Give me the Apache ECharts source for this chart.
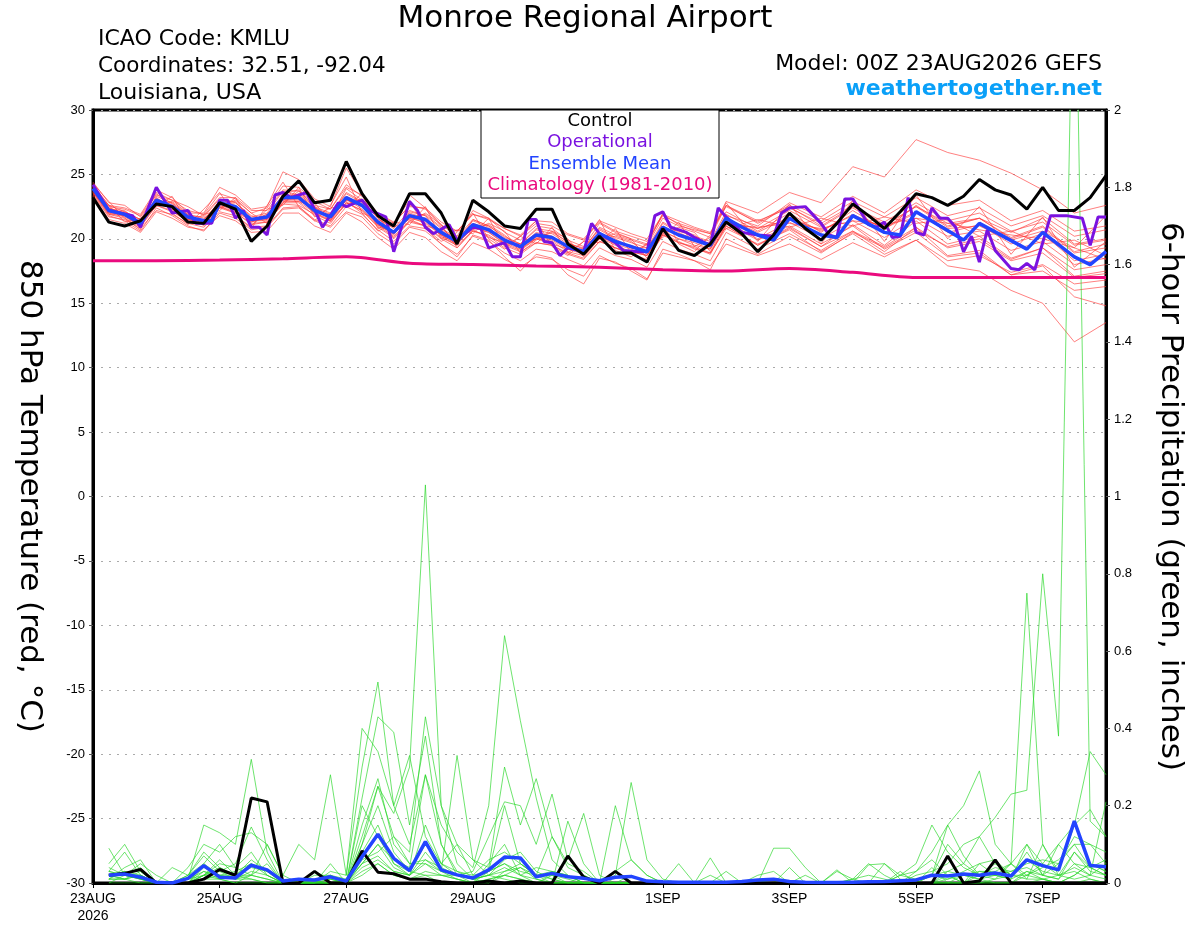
<!DOCTYPE html>
<html><head><meta charset="utf-8">
<script src="https://cdn.jsdelivr.net/npm/echarts@6/dist/echarts.min.js"></script>
<style>html,body{margin:0;padding:0;background:#fff}#c{width:1200px;height:927px}</style>
</head><body><div id="c"></div>
<script>
// ---------- DATA ----------
const tickHours = [0,48,96,144,216,264,312,360];
const tickLabels = ['23AUG\n2026','25AUG','27AUG','29AUG','1SEP','3SEP','5SEP','7SEP'];

const hours6 = [0,6,12,18,24,30,36,42,48,54,60,66,72,78,84,90,96,102,108,114,120,126,132,138,144,150,156,162,168,174,180,186,192,198,204,210,216,222,228,234,240,246,252,258,264,270,276,282,288,294,300,306,312,318,324,330,336,342,348,354,360,366,372,378,384];
const precipHours = [6,12,18,24,30,36,42,48,54,60,66,72,78,84,90,96,102,108,114,120,126,132,138,144,150,156,162,168,174,180,186,192,198,204,210,216,222,228,234,240,246,252,258,264,270,276,282,288,294,300,306,312,318,324,330,336,342,348,354,360,366,372,378,384];
const memberTempHours = [0,6,12,18,24,30,36,42,48,54,60,66,72,78,84,90,96,102,108,114,120,126,132,138,144,150,156,162,168,174,180,186,192,198,204,210,216,222,228,234,240,252,264,276,288,300,312,324,336,348,360,372,384];

const controlTemp = [23.2,21.3,21.0,21.4,22.7,22.5,21.3,21.2,22.8,
 22.3,19.8,21.0,23.3,24.5,22.8,23.0,26.0,
 23.5,21.8,21.0,23.5,23.5,22.0,19.6,23.0,
 22.1,21.0,20.8,22.3,22.3,19.6,18.8,20.2,
 18.9,18.9,18.2,20.8,19.1,18.7,19.6,21.3,
 20.4,19.0,20.3,22.0,20.8,19.9,21.2,22.7,
 21.8,20.8,22.1,23.5,23.2,22.6,23.3,24.6,
 23.8,23.4,22.3,24.0,22.2,22.2,23.2,24.9];

const meanTempHours = [0,6,12,18,24,30,36,42,45,48,54,60,66,72,78,84,90,96,102,108,114,120,126,132,138,144,150,156,162,168,174,180,186,192,198,204,210,216,222,228,234,240,246,252,258,264,270,276,282,288,300,306,312,330,336,354,360,372,378,384];
const meanTemp = [23.9,22.2,21.9,21.2,23.0,22.5,21.7,21.4,21.4,22.8,22.5,21.5,21.7,23.2,23.2,22.2,21.7,23.2,22.6,21.3,20.5,21.8,21.5,20.5,19.8,21.1,20.7,19.9,19.4,20.3,20.1,19.4,19.0,20.4,19.8,19.4,19.0,20.9,20.3,19.9,19.5,21.6,20.9,20.3,19.9,21.6,20.9,20.3,20.1,21.8,20.5,20.3,22.1,19.9,21.2,19.2,20.5,18.6,18.0,19.0];

const opTempHours = [0,6,15,18,24,30,36,39,45,48,51,54,57,60,63,66,69,72,75,81,87,93,96,102,105,111,114,120,123,126,129,135,138,144,147,150,156,159,162,165,168,171,174,177,180,186,189,192,198,201,207,210,213,216,219,225,228,234,237,240,243,246,252,258,261,264,270,276,279,282,285,288,294,297,300,303,306,309,312,315,318,321,324,327,330,333,336,339,342,348,351,354,357,363,369,375,378,381,384];
const opTemp = [24.2,22.2,21.8,20.9,24.0,22.0,22.2,21.2,21.2,23.0,23.0,21.6,22.2,20.9,20.9,20.3,23.4,23.6,23.2,23.6,20.9,22.8,22.5,23.0,22.2,21.7,19.0,22.9,22.2,20.9,20.4,21.1,19.9,20.9,20.8,19.3,19.7,18.6,18.6,21.5,21.5,19.8,19.7,18.7,19.3,19.0,21.2,20.4,19.7,19.1,19.0,19.0,21.8,22.1,20.9,20.5,20.1,19.5,22.4,21.7,21.1,20.5,20.3,20.2,22.0,22.4,22.5,21.2,20.3,20.1,23.1,23.1,21.1,20.9,21.3,20.1,20.2,23.2,20.5,20.3,22.4,21.6,21.6,20.9,19.0,20.2,18.2,20.7,19.1,17.7,17.6,18.1,17.6,21.8,21.8,21.6,19.5,21.7,21.7];

const climHours = [0,24,48,72,96,120,144,168,192,216,240,264,288,312,336,360,384];
const climTemp = [18.3,18.3,18.35,18.45,18.6,18.1,18.0,17.9,17.8,17.6,17.5,17.7,17.4,17.0,17.0,17.0,17.0];

const m01 = [24.0,22.5,22.3,21.8,23.6,23.0,22.2,21.9,23.5,23.1,22.0,22.4,24.1,24.0,22.9,22.3,24.2,23.3,22.0,21.2,22.6,22.3,21.0,20.6,21.9,21.5,20.8,20.2,21.2,21.0,20.3,19.9,21.3,20.6,20.2,19.8,21.8,21.2,20.8,20.4,22.5,21.3,22.6,21.4,22.9,21.7,23.2,21.8,22.4,21.0,21.8,20.2,20.7];
const m02 = [23.5,21.8,21.4,20.6,22.4,21.8,21.0,20.6,22.0,21.6,20.7,20.9,22.3,22.4,21.4,20.9,22.1,21.7,20.4,19.6,20.9,20.6,19.6,18.8,20.2,19.8,18.9,18.3,19.2,19.0,18.4,17.9,19.3,18.7,18.4,17.8,19.8,19.2,18.8,18.3,20.5,19.2,20.4,19.1,20.6,19.4,20.9,19.3,19.8,18.3,18.9,17.0,17.3];
const m03 = [24.1,22.4,22.0,21.0,23.3,22.8,21.6,21.2,23.0,22.9,21.4,21.5,23.5,23.8,22.4,21.6,23.9,23.0,21.1,20.3,22.1,21.8,20.2,19.5,21.5,21.0,20.1,19.6,20.8,20.6,19.7,19.2,20.9,20.3,19.9,19.5,21.6,21.0,20.7,20.4,22.9,22.0,23.6,22.8,25.6,24.8,27.7,26.7,26.1,25.1,23.8,22.0,22.6];
const m04 = [23.8,22.0,21.7,21.0,22.6,22.1,21.4,21.2,22.4,22.0,21.2,21.3,22.7,22.6,21.9,21.4,22.8,22.2,21.0,20.2,21.4,21.0,20.1,19.5,20.6,20.3,19.5,19.0,19.7,19.5,18.9,18.5,19.8,19.3,18.8,18.4,20.3,19.7,19.4,18.9,20.8,19.6,20.7,19.0,20.4,18.8,19.9,17.9,17.5,16.0,15.0,12.0,13.5];
const m05 = [23.6,21.9,21.8,21.4,22.9,22.6,21.9,21.6,22.5,22.0,21.5,21.9,23.0,22.9,22.5,22.0,22.9,22.0,21.5,20.9,21.5,21.0,20.7,20.0,20.7,20.1,19.7,19.5,20.0,19.6,19.2,19.0,20.0,19.3,19.0,18.7,20.4,19.8,19.2,18.9,21.0,19.5,20.8,19.4,20.6,19.0,20.9,18.7,19.1,17.2,17.9,15.5,14.8];
const m06 = [24.3,22.9,21.6,20.7,23.9,22.0,21.1,22.3,23.6,21.8,20.8,22.6,24.4,22.5,21.4,22.6,24.8,22.0,20.6,21.2,23.0,20.8,19.8,20.5,22.0,20.0,19.2,20.2,21.4,19.4,18.7,19.8,21.5,19.1,18.6,19.6,22.0,19.6,19.0,20.3,22.8,19.8,22.7,19.6,23.0,19.8,23.4,20.0,22.5,18.8,21.7,17.8,19.8];
const m07 = [23.7,22.1,22.1,21.5,22.7,22.9,22.0,21.0,22.4,23.0,22.0,21.2,22.8,23.7,22.8,21.3,22.7,23.1,21.9,20.0,21.4,22.0,21.1,19.3,20.7,21.2,20.6,18.9,19.9,20.6,20.0,18.6,20.0,20.4,20.0,18.5,20.4,20.9,20.5,19.0,21.1,20.9,21.2,20.8,21.4,21.1,21.6,21.2,20.7,20.3,20.0,19.3,18.4];
const m08 = [24.2,22.6,22.4,21.9,23.8,23.2,22.0,22.0,24.0,23.4,22.3,22.5,25.2,24.6,23.1,22.5,25.5,23.5,21.9,21.0,23.4,22.4,21.1,20.2,22.2,21.6,20.5,19.9,21.0,20.8,19.9,19.4,21.2,20.5,20.0,19.6,21.9,21.1,20.6,20.1,22.6,21.2,22.5,21.0,22.5,21.3,22.8,21.4,22.0,20.6,21.3,19.5,19.9];
const m09 = [23.4,21.7,21.5,20.8,22.2,21.9,21.2,20.9,22.1,21.8,20.9,21.0,22.4,22.5,21.5,21.0,22.5,21.9,20.7,19.8,21.0,20.8,19.6,18.6,20.3,19.9,18.6,17.5,18.8,18.5,17.2,16.5,18.5,18.2,17.5,16.8,19.2,18.8,18.3,17.6,20.0,18.8,20.2,18.9,20.5,19.3,20.7,19.4,20.0,18.4,19.3,17.6,18.0];
const m10 = [23.9,22.3,22.0,21.1,23.2,22.4,21.5,21.5,22.9,22.6,21.3,21.9,23.4,23.4,22.1,21.9,23.5,22.8,21.2,20.6,22.0,21.6,20.3,19.9,21.4,20.9,19.8,19.4,20.5,20.2,19.3,19.1,20.7,20.0,19.3,19.1,21.2,20.5,19.9,19.6,21.9,20.6,22.0,20.5,22.2,20.7,22.6,21.0,21.6,20.1,21.0,19.0,19.6];
const m11 = [24.0,22.2,21.8,21.3,23.1,22.6,21.8,21.3,22.7,22.4,21.6,21.6,23.1,23.0,22.3,21.6,23.0,22.5,21.4,20.4,21.7,21.4,20.6,19.7,21.0,20.6,20.0,19.3,20.2,20.0,19.5,19.0,20.3,19.7,19.5,19.0,20.9,20.4,20.0,19.6,21.8,21.0,22.8,21.7,23.3,22.0,23.8,22.6,23.0,21.4,22.2,20.6,21.0];
const m12 = [23.3,21.5,21.2,20.5,22.1,21.6,20.9,20.7,21.8,21.4,20.5,20.6,22.0,22.0,21.0,20.5,22.0,21.3,20.1,19.2,20.5,20.1,19.0,18.3,19.7,19.2,18.4,17.8,18.6,18.4,17.6,17.1,18.7,18.1,17.7,16.9,18.9,18.6,18.3,17.9,19.6,18.7,19.6,18.4,19.7,18.6,19.9,18.3,18.7,17.4,18.0,16.5,16.8];
const m13 = [24.4,22.8,22.6,21.7,23.4,23.0,22.5,21.8,23.2,23.2,22.2,22.2,23.8,23.7,22.6,22.3,24.0,23.4,22.0,21.3,22.5,22.4,21.3,20.6,21.9,21.6,20.8,20.3,21.4,21.3,20.4,20.0,21.4,20.9,20.4,20.0,21.9,21.4,20.9,20.5,22.6,21.4,22.4,21.2,22.6,21.1,22.5,21.2,21.6,20.5,21.6,19.6,20.0];
const m14 = [23.6,22.0,21.9,21.3,23.0,22.3,21.5,21.1,22.6,22.2,21.4,21.4,22.9,22.9,22.0,21.4,23.1,22.3,21.1,20.4,21.7,21.2,20.3,19.6,20.9,20.5,19.7,19.2,20.1,19.9,19.2,18.8,20.2,19.6,19.2,18.7,20.6,20.0,19.7,19.2,21.3,20.0,21.3,20.0,21.4,20.1,21.6,20.2,20.6,19.1,19.8,18.0,18.5];
const m15 = [23.9,22.4,21.9,21.1,23.1,22.4,21.6,21.5,22.8,22.5,21.5,21.7,23.4,23.2,22.1,21.8,23.3,22.6,21.2,20.6,21.9,21.5,20.4,20.0,21.2,20.8,19.8,19.6,20.4,20.2,19.3,19.2,20.5,19.9,19.3,19.3,21.0,20.3,19.8,19.7,21.6,20.5,21.7,20.6,21.9,20.8,22.0,20.8,21.0,19.9,20.6,19.3,21.8];
const m16 = [23.8,22.1,21.8,21.0,22.9,22.3,21.5,21.4,22.7,22.4,21.3,21.6,23.1,23.1,22.0,21.5,23.1,22.5,21.1,20.4,21.6,21.3,20.3,19.6,20.9,20.5,19.6,19.1,20.0,19.8,19.0,18.7,20.1,19.5,19.0,18.7,20.6,20.0,19.5,19.2,21.2,19.9,21.0,19.6,21.0,19.2,20.5,18.6,18.9,17.2,17.5,16.0,16.3];
const m17 = [24.1,22.6,22.1,21.5,23.5,22.7,21.8,21.7,23.1,22.8,21.7,22.0,23.7,23.4,22.4,21.9,23.6,22.9,21.6,20.8,22.2,21.8,20.8,20.1,21.5,21.0,20.2,19.6,20.7,20.4,19.6,19.3,20.8,20.1,19.7,19.3,21.3,20.6,20.2,19.8,22.1,20.8,22.2,20.9,22.4,21.0,22.5,20.9,21.6,20.0,20.9,18.9,19.3];
const m18 = [23.5,22.6,21.3,21.6,22.5,23.3,21.2,21.9,22.2,23.2,21.0,22.3,22.6,24.0,21.7,22.4,22.5,23.5,20.8,21.3,21.1,22.5,20.0,20.7,20.4,21.6,19.4,20.2,19.6,20.9,18.9,19.8,19.7,20.8,18.9,19.6,20.1,21.3,19.4,20.1,20.8,21.5,20.9,21.6,21.0,21.7,21.2,21.5,20.2,20.6,19.6,19.9,18.7];
const m19 = [24.2,22.3,22.2,21.2,22.8,22.8,21.9,21.3,22.6,22.8,21.8,21.5,23.0,23.5,22.5,21.5,23.0,23.0,21.6,20.5,21.6,21.9,20.9,19.7,20.8,21.1,20.3,19.2,20.0,20.5,19.8,18.9,20.0,20.2,19.8,18.8,20.5,20.7,20.3,19.3,21.3,20.8,21.5,20.7,21.8,20.9,22.1,20.5,21.1,19.6,20.4,18.3,18.8];
const m20 = [23.7,21.9,21.6,20.9,22.6,22.2,21.3,21.1,22.5,22.1,21.1,21.3,22.8,22.8,21.8,21.2,22.8,22.2,20.9,20.1,21.3,21.0,20.0,19.3,20.6,20.2,19.3,18.8,19.7,19.5,18.8,18.4,19.8,19.3,18.8,18.3,20.3,19.7,19.3,18.8,21.0,19.5,20.9,19.4,21.1,19.5,21.4,19.6,20.2,18.5,19.3,17.1,17.5];
const memberTemps = [m01,m02,m03,m04,m05,m06,m07,m08,m09,m10,m11,m12,m13,m14,m15,m16,m17,m18,m19,m20];

const controlPrecip = [0.02,0.025,0.035,0,0,0,0.01,0.035,
 0.02,0.22,0.21,0,0,0.03,0,0,
 0.083,0.028,0.024,0.01,0.01,0.003,0,0,
 0.005,0,0.005,0,0,0.07,0.015,0,
 0.03,0,0,0,0,0,0,0,
 0,0,0,0,0,0,0,0,
 0,0,0,0,0,0.07,0,0.005,
 0.06,0,0,0,0,0,0,0];
const meanPrecip = [0.02,0.023,0.015,0.002,0,0.012,0.045,0.015,
 0.013,0.046,0.034,0.005,0.01,0.008,0.016,0.005,
 0.068,0.126,0.064,0.032,0.107,0.034,0.021,0.013,
 0.034,0.067,0.065,0.016,0.025,0.016,0.012,0.006,
 0.015,0.017,0.005,0.003,0.002,0.002,0.002,0.002,
 0.004,0.008,0.01,0.004,0.002,0.001,0.001,0.002,
 0.003,0.004,0.006,0.008,0.02,0.018,0.023,0.02,
 0.026,0.018,0.06,0.045,0.034,0.16,0.045,0.042];

const p01 = [0.02,0.01,0.03,0,0,0,0.05,0.02, 0.01,0.03,0.02,0,0,0.01,0.02,0, 0.12,0.25,0.18,0.3,1.03,0.2,0.05,0.01, 0,0.02,0.04,0.01,0,0,0,0, 0,0,0,0,0,0,0,0, 0,0,0,0,0,0,0,0, 0,0,0,0.01,0.02,0.01,0.03,0.05, 0.02,0.01,0.1,0.05,0.02,0.08,0.04,0.06];
const p02 = [0.05,0.1,0.03,0,0,0.02,0.08,0.04, 0.02,0.06,0.03,0.01,0,0,0.03,0.02, 0.3,0.52,0.2,0.1,0.28,0.15,0.08,0.04, 0.2,0.64,0.42,0.22,0.06,0.02,0,0, 0,0.02,0,0,0,0,0,0, 0,0,0,0,0,0,0,0.01, 0,0,0,0,0,0.03,0.02,0.01, 0,0,0.03,0.01,0,0.02,0.05,0.03];
const p03 = [0.09,0.02,0.01,0,0,0.01,0.15,0.13, 0.1,0.32,0.08,0,0,0,0,0, 0.22,0.43,0.39,0.15,0.38,0.1,0.02,0, 0.03,0.05,0.02,0,0,0,0,0, 0,0,0,0,0,0,0,0, 0,0,0,0,0,0,0,0, 0,0,0.02,0.05,0.15,0.08,0.04,0.02, 0.01,0.05,0.75,0.1,0.02,0.03,0.01,0];
const p04 = [0.01,0.04,0.06,0,0,0,0.02,0.05, 0.04,0.02,0.1,0.02,0,0,0,0.01, 0.05,0.1,0.04,0.02,0.08,0.03,0.33,0.06, 0.02,0.01,0,0,0,0.16,0.05,0, 0,0,0,0,0,0,0,0, 0,0,0,0,0,0,0,0.01, 0.02,0.01,0,0.02,0.03,0.05,0.1,0.12, 0.17,0.23,0.24,0.8,0.38,2.6,0.16,0.12];
const p05 = [0.03,0.08,0.02,0,0,0.04,0.1,0.08, 0.12,0.13,0.1,0.02,0.1,0.06,0.28,0.02, 0.4,0.34,0.2,0.33,0.12,0.05,0.02,0.03, 0.12,0.21,0.2,0.1,0.23,0.06,0.18,0.02, 0,0,0,0,0,0,0,0, 0,0.02,0.03,0,0,0,0.03,0.01, 0.05,0.02,0,0.03,0.08,0.15,0.2,0.29, 0.1,0.05,0.02,0.05,0.1,0.15,0.34,0.28];
const p06 = [0.02,0.03,0.01,0,0.04,0.02,0.07,0.03, 0.05,0.145,0.06,0,0,0.03,0.01,0, 0.1,0.25,0.12,0.08,0.43,0.2,0.1,0.06, 0.04,0.3,0.15,0.27,0.12,0.05,0.03,0, 0.2,0.06,0.02,0,0,0,0,0, 0,0,0,0,0,0,0,0, 0,0,0,0,0.02,0.15,0.07,0.02, 0.05,0.02,0.06,0.03,0.02,0.04,0.02,0.21];
const p07 = [0.04,0.02,0.05,0.02,0,0,0.03,0.01, 0.02,0.05,0.03,0,0,0.02,0.02,0.01, 0.08,0.15,0.05,0.02,0.05,0.03,0.02,0.01, 0.02,0.03,0.05,0.02,0.12,0.04,0.02,0, 0.02,0.26,0.06,0.01,0,0,0,0, 0,0,0,0.04,0,0,0,0, 0,0.05,0.01,0,0.04,0,0.02,0.01, 0.02,0.01,0.03,0.02,0.1,0.05,0.04,0.02];
const p08 = [0.01,0.01,0.02,0,0,0,0.02,0.04, 0.02,0.02,0.01,0,0,0,0.01,0, 0.05,0.07,0.03,0.02,0.15,0.05,0.03,0.02, 0.06,0.08,0.05,0.02,0.01,0,0.02,0, 0.03,0.06,0.02,0,0,0,0.02,0, 0,0,0.09,0.09,0.04,0,0,0, 0,0,0,0,0,0,0,0.03, 0.02,0.05,0.01,0.1,0.03,0.15,0.19,0.12];
const p09 = [0.02,0.01,0.02,0,0,0,0.01,0.02, 0.02,0.01,0,0,0.01,0,0,0, 0.02,0.05,0.02,0.01,0.03,0.02,0.01,0, 0.01,0.02,0.01,0,0.02,0.01,0,0, 0,0,0,0,0.05,0,0,0, 0,0,0,0,0,0,0.034,0, 0.047,0.05,0.02,0.01,0.02,0.1,0.05,0.12, 0.05,0.02,0.01,0.01,0,0.02,0.05,0.03];
const p10 = [0.03,0.02,0.01,0,0,0,0.04,0.02, 0.01,0.02,0.05,0,0,0,0.01,0, 0.2,0.12,0.05,0.03,0.02,0.02,0.01,0, 0.05,0.1,0.02,0.04,0.03,0.02,0,0, 0,0,0,0,0,0,0.065,0, 0,0,0,0,0,0,0,0, 0,0,0.03,0,0,0.01,0.02,0.03, 0.03,0.05,0.1,0.02,0.01,0.05,0.02,0.01];
const p11 = [0,0.02,0.01,0,0,0,0.02,0.01, 0,0.02,0.01,0,0,0,0,0, 0.1,0.2,0.08,0.03,0.1,0.05,0.1,0.02, 0.03,0.2,0.05,0.02,0.02,0,0,0, 0,0,0,0,0,0,0,0, 0,0,0,0,0,0,0,0, 0,0,0,0,0,0,0,0, 0,0,0.02,0.01,0,0,0.01,0];
const p12 = [0.01,0.01,0,0,0,0.02,0.05,0.1, 0.04,0.08,0.02,0,0,0,0.02,0, 0.15,0.27,0.1,0.05,0.05,0.02,0.02,0.01, 0.02,0.04,0.02,0.01,0,0,0,0, 0,0,0,0,0,0,0,0, 0,0,0,0,0,0,0,0, 0,0,0,0,0,0.02,0,0.05, 0.06,0.02,0.08,0.02,0.05,0.1,0.1,0.05];
const p13 = [0.02,0.02,0.02,0,0,0.01,0.03,0.02, 0.03,0.05,0.02,0,0,0,0,0, 0.05,0.1,0.06,0.04,0.28,0.1,0.03,0.01, 0.03,0.05,0.03,0.02,0,0,0,0, 0,0,0,0,0,0,0,0, 0,0,0,0,0,0,0,0, 0,0,0.02,0.03,0.06,0.02,0,0.02, 0.02,0.03,0.04,0.02,0.01,0.08,0.03,0.02];
const p14 = [0.01,0.03,0.02,0,0,0,0.01,0.01, 0,0,0,0,0,0,0,0, 0.03,0.05,0.02,0.01,0.02,0,0,0, 0.01,0.02,0.01,0,0,0,0,0, 0,0,0,0,0,0,0,0, 0,0,0,0,0,0,0,0, 0,0,0,0,0,0,0,0, 0,0,0,0.01,0.02,0.01,0.02,0.05];
const p15 = [0.03,0.02,0.04,0,0,0.01,0.02,0.06, 0.02,0.04,0.03,0,0,0,0.05,0, 0.06,0.08,0.12,0.05,0.06,0.04,0.02,0.01, 0.02,0.06,0.08,0.03,0.01,0,0,0, 0,0,0,0,0,0,0,0, 0,0,0,0,0.02,0,0,0, 0,0,0,0,0.02,0.03,0.05,0.02, 0.04,0.03,0.05,0.06,0.05,0.12,0.1,0.08];
const p16 = [0,0,0,0,0,0,0.02,0.03, 0.01,0.01,0,0,0,0,0,0, 0.04,0.06,0.03,0.02,0.06,0.03,0.01,0, 0,0.03,0.04,0.02,0.03,0.02,0,0, 0,0,0,0,0,0,0,0.03, 0,0,0.01,0,0,0,0,0, 0,0,0,0,0,0,0,0, 0.01,0.02,0.02,0.04,0.06,0.1,0.04,0.02];
const memberPrecips = [p01,p02,p03,p04,p05,p06,p07,p08,p09,p10,p11,p12,p13,p14,p15,p16];

const legendLines = ['Control','Operational','Ensemble Mean','Climatology (1981-2010)'];

// ---------- CHART ----------
const FONT = '"DejaVu Sans", "Liberation Sans", Arial, sans-serif';
const TICKFONT = '"Liberation Sans", Arial, Helvetica, sans-serif';
const C_CONTROL = '#000000', C_OP = '#7a12e0', C_MEAN = '#2244ff', C_CLIM = '#ea0a7e';
const legendColors = [C_CONTROL, C_OP, C_MEAN, C_CLIM];

function pairs(xs, ys){ return ys.map((v,i)=>[xs[i], v]); }

const series = [];
memberTemps.forEach((m,k)=>series.push({type:'line', name:'tm'+k, yAxisIndex:0, data:pairs(memberTempHours,m),
  showSymbol:false, symbol:'none', lineStyle:{color:'rgba(255,55,55,0.8)', width:0.8}, z:2, silent:true}));
memberPrecips.forEach((m,k)=>series.push({type:'line', name:'pm'+k, yAxisIndex:1, data:pairs(precipHours,m),
  showSymbol:false, symbol:'none', lineStyle:{color:'rgba(40,215,40,0.85)', width:0.8}, z:3, silent:true}));
series.push({type:'line', name:'clim', yAxisIndex:0, data:pairs(climHours,climTemp), smooth:0.3, symbol:'none',
  lineStyle:{color:C_CLIM, width:3}, z:5});
series.push({type:'line', name:'ctrlP', yAxisIndex:1, data:pairs(precipHours,controlPrecip), symbol:'none',
  lineStyle:{color:C_CONTROL, width:3}, z:6});
series.push({type:'line', name:'meanP', yAxisIndex:1, data:pairs(precipHours,meanPrecip), symbol:'none',
  lineStyle:{color:C_MEAN, width:3.5}, z:7});
series.push({type:'line', name:'op', yAxisIndex:0, data:pairs(opTempHours,opTemp), symbol:'none',
  lineStyle:{color:C_OP, width:3}, z:6});
series.push({type:'line', name:'mean', yAxisIndex:0, data:pairs(meanTempHours,meanTemp), symbol:'none',
  lineStyle:{color:C_MEAN, width:3.5}, z:7});
series.push({type:'line', name:'ctrl', yAxisIndex:0, data:pairs(hours6,controlTemp), symbol:'none',
  lineStyle:{color:C_CONTROL, width:3}, z:8});

const graphics = [
  {type:'text', x:585, y:19, z:100, style:{text:'Monroe Regional Airport', font:'31px '+FONT, fill:'#000', textAlign:'center', textVerticalAlign:'middle'}},
  {type:'text', x:98, y:39, z:100, style:{text:'ICAO Code: KMLU', font:'22px '+FONT, fill:'#000', textAlign:'left', textVerticalAlign:'middle'}},
  {type:'text', x:98, y:66, z:100, style:{text:'Coordinates: 32.51, -92.04', font:'21.5px '+FONT, fill:'#000', textAlign:'left', textVerticalAlign:'middle'}},
  {type:'text', x:98, y:93, z:100, style:{text:'Louisiana, USA', font:'22px '+FONT, fill:'#000', textAlign:'left', textVerticalAlign:'middle'}},
  {type:'text', x:1102, y:64, z:100, style:{text:'Model: 00Z 23AUG2026 GEFS', font:'22px '+FONT, fill:'#000', textAlign:'right', textVerticalAlign:'middle'}},
  {type:'text', x:1102, y:89, z:100, style:{text:'weathertogether.net', font:'bold 22px '+FONT, fill:'#0aa0f8', textAlign:'right', textVerticalAlign:'middle'}},
  {type:'rect', z:100, shape:{x:481, y:110, width:238, height:88}, style:{fill:'#fff', stroke:'#000', lineWidth:1}}
];
legendLines.forEach((t,i)=>graphics.push({type:'text', z:101, x:600, y:121+i*21.5,
  style:{text:t, font:'18px '+FONT, fill:legendColors[i], textAlign:'center', textVerticalAlign:'middle'}}));

const chart = echarts.init(document.getElementById('c'), null, {renderer:'canvas'});
chart.setOption({
  animation:false,
  backgroundColor:'#fff',
  textStyle:{fontFamily:TICKFONT},
  grid:{left:93, right:94, top:110, bottom:44, show:true, borderColor:'#000', borderWidth:3, backgroundColor:'transparent'},
  xAxis:{type:'value', min:0, max:384,
    axisLine:{show:true, onZero:false, lineStyle:{color:'#000', width:3}},
    axisTick:{show:true, customValues:tickHours, length:5, lineStyle:{color:'#000', width:1}},
    axisLabel:{customValues:tickHours, color:'#000', fontSize:14, margin:8, lineHeight:17, fontFamily:TICKFONT,
      formatter:v=>{const i=tickHours.indexOf(v); return i>=0?tickLabels[i]:'';}},
    splitLine:{show:false}},
  yAxis:[
    {type:'value', min:-30, max:30, interval:5, position:'left',
     name:'850 hPa Temperature (red, °C)', nameLocation:'middle', nameGap:48, nameRotate:-90,
     nameTextStyle:{color:'#000', fontSize:31, fontFamily:FONT},
     axisLine:{show:true, onZero:false, lineStyle:{color:'#000', width:3}},
     axisTick:{show:true, length:4, lineStyle:{color:'#555'}},
     axisLabel:{color:'#000', fontSize:13, margin:8, fontFamily:TICKFONT},
     splitLine:{show:true, lineStyle:{color:'#aaa', width:1.2, type:[2,6]}}},
    {type:'value', min:0, max:2, interval:0.2, position:'right',
     name:'6-hour Precipitation (green, inches)', nameLocation:'middle', nameGap:49, nameRotate:-90,
     nameTextStyle:{color:'#000', fontSize:31, fontFamily:FONT},
     axisLine:{show:true, onZero:false, lineStyle:{color:'#000', width:3}},
     axisTick:{show:true, length:4, lineStyle:{color:'#555'}},
     axisLabel:{color:'#000', fontSize:13, margin:8, fontFamily:TICKFONT, formatter:v=>String(Math.round(v*10)/10)},
     splitLine:{show:false}}
  ],
  graphic:graphics,
  series:series
});
</script></body></html>
